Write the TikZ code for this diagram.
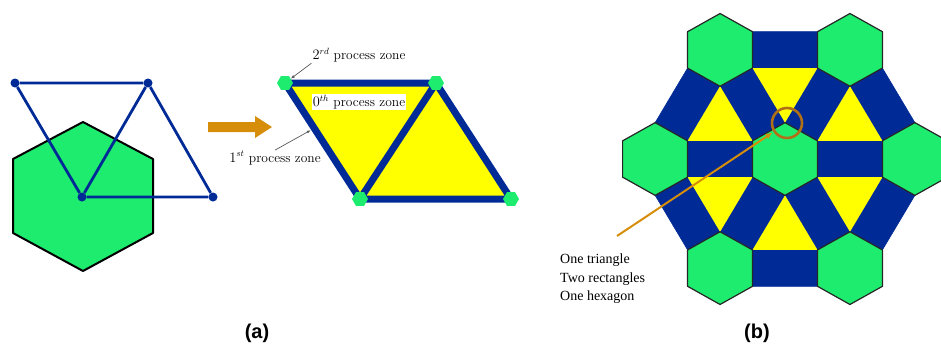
\documentclass[tikz,border=0pt]{standalone}
\usepackage{fontspec}
\newfontfamily\serifschrift{Liberation Serif}
\newfontfamily\fettschrift{Liberation Sans}
\usetikzlibrary{calc,arrows.meta,shapes.geometric}
\definecolor{gruen}{RGB}{30,236,110}
\definecolor{blau}{RGB}{0,42,150}
\definecolor{gelb}{RGB}{255,255,0}
\definecolor{ocker}{RGB}{214,142,10}
\definecolor{braun}{RGB}{176,112,24}
\begin{document}
\begin{tikzpicture}[
      x=1pt, y=-1pt,
      punkt/.style={circle, fill=blau, inner sep=0pt, minimum size=9pt},
      kante/.style={draw=blau, line width=2.8pt},
      balken/.style={draw=blau, line width=7pt},
      knoten/.style={regular polygon, regular polygon sides=6, fill=gruen, inner sep=0pt, minimum size=16pt},
      zone/.style={font=\fontsize{13.5}{15}\selectfont, inner sep=1pt},
      zeiger/.style={-{Latex[length=4pt,width=3pt]}, draw=black!65, line width=0.7pt},
      wabe/.style={fill=gruen, draw=black!85, line width=1.2pt, line join=round},
      stein/.style={fill=blau, draw=blau, line width=0.5pt},
      titel/.style={font=\fettschrift\bfseries\fontsize{20}{24}\selectfont}
    ]
      \useasboundingbox (0,0) rectangle (941,348);
      % (a) einzelnes Sechseck mit Dreiecksgitter
      \draw[fill=gruen, line width=2pt, line join=round] (83,122) -- (153,159) -- (153,233) -- (83,271) -- (13,233) -- (13,159) -- cycle;
      \node[punkt] (w1) at (15,83) {};
      \node[punkt] (w2) at (148,83) {};
      \node[punkt] (w3) at (82,197) {};
      \node[punkt] (w4) at (213,197) {};
      \draw[kante] (w1) -- (w2) (w1) -- (w3) (w3) -- (w2) (w2) -- (w4) (w3) -- (w4);
      \fill[ocker] (208,122) -- (255,122) -- (255,116) -- (272,127) -- (255,138) -- (255,132) -- (208,132) -- cycle;
      % Prozesszonen
      \coordinate (p1) at (285,83);
      \coordinate (p2) at (436,83);
      \coordinate (p3) at (360,199);
      \coordinate (p4) at (511,199);
      \fill[gelb] (p1) -- (p2) -- (p3) -- cycle;
      \fill[gelb] (p2) -- (p4) -- (p3) -- cycle;
      \draw[balken] (p1) -- (p2) (p1) -- (p3) (p3) -- (p2) (p2) -- (p4) (p3) -- (p4);
      \foreach \p in {1,...,4}
        \node[knoten] (k\p) at (p\p) {};
      \node[zone, fill=white] (z0) at (359,102) {$0^{th}$ process zone};
      \node[zone] (z2) at (359,55) {$2^{rd}$ process zone};
      \node[zone] (z1) at (275,158) {$1^{st}$ process zone};
      \coordinate (e1) at ($(p1)!0.39!(p3)$);
      \draw[zeiger] (z2.south west) -- (k1);
      \draw[zeiger, shorten >=4pt] (z1.north) -- (e1);
      % (b) Mosaik
      \begin{scope}[shift={(785,159)}, yscale=0.97]
        \foreach \w in {0,60,...,300} {
          \begin{scope}[rotate=\w]
            \filldraw[stein] (32.48,-18.75) -- (97.43,-18.75) -- (97.43,18.75) -- (32.48,18.75) -- cycle;
            \filldraw[stein] (97.43,18.75) -- (129.9,37.5) -- (97.43,93.75) -- (64.95,75) -- cycle;
          \end{scope}
        }
        \foreach \w in {0,60,...,300} {
          \begin{scope}[rotate=\w]
            \fill[gelb] (32.48,18.75) -- (97.43,18.75) -- (64.95,75) -- cycle;
          \end{scope}
        }
        \draw[wabe] (0,0) +(30:37.5) -- +(90:37.5) -- +(150:37.5) -- +(210:37.5) -- +(270:37.5) -- +(330:37.5) -- cycle;
        \foreach \w in {0,60,...,300}
          \draw[wabe] (\w:129.9) +(30:37.5) -- +(90:37.5) -- +(150:37.5) -- +(210:37.5) -- +(270:37.5) -- +(330:37.5) -- cycle;
      \end{scope}
      \node[draw=braun, circle, line width=2.6pt, minimum size=30pt, inner sep=0pt] (ring) at (787,123) {};
      \coordinate (m0) at (617,236);
      \draw[ocker, line width=2pt, -{Latex[length=7pt,width=6pt]}, shorten >=1pt] (m0) -- (ring);
      \node[anchor=north west, align=left, inner sep=0pt, font=\serifschrift\fontsize{14}{18.3}\selectfont] (txt) at (560,254) {One triangle\\Two rectangles\\One hexagon};
      \node[titel] (la) at (257,333) {(a)};
      \node[titel] (lb) at (757,333) {(b)};
    \end{tikzpicture}
\end{document}
